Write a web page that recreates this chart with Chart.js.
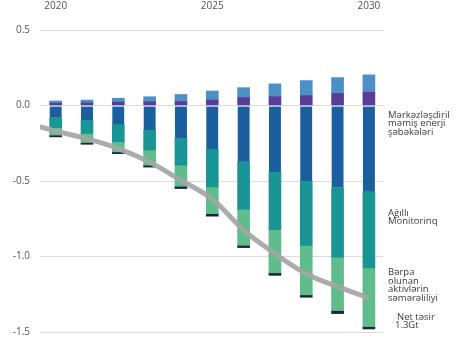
<!DOCTYPE html>
<html>
<head>
<meta charset="utf-8">
<script src="https://cdn.jsdelivr.net/npm/chart.js@4/dist/chart.umd.min.js"></script>
<style>
  html, body { margin: 0; padding: 0; background: #fff; }
  #wrap { width: 456px; height: 348px; position: relative; }
</style>
</head>
<body>
<div id="wrap"><canvas id="chart"></canvas></div>
<script>
// years on the top axis
const years = [2020, 2021, 2022, 2023, 2024, 2025, 2026, 2027, 2028, 2029, 2030];
const yearTicks = [2020, 2025, 2030];

// positive segments (Gt)
const purple    = [0.015, 0.018, 0.023, 0.025, 0.027, 0.036, 0.052, 0.058, 0.065, 0.080, 0.088];
const lightBlue = [0.015, 0.018, 0.025, 0.033, 0.046, 0.060, 0.066, 0.085, 0.100, 0.105, 0.115];

// negative segments (Gt)
const decentral = [-0.080, -0.096, -0.125, -0.163, -0.218, -0.291, -0.373, -0.440, -0.500, -0.543, -0.572];
const smartMon  = [-0.067, -0.089, -0.115, -0.132, -0.177, -0.248, -0.314, -0.382, -0.426, -0.461, -0.503];
const renewEff  = [-0.049, -0.060, -0.067, -0.100, -0.140, -0.177, -0.239, -0.286, -0.328, -0.354, -0.389];
const other     = [-0.012, -0.012, -0.012, -0.013, -0.015, -0.017, -0.015, -0.017, -0.016, -0.020, -0.016];

// net impact line (starts at the left edge of the plot)
const netYears = [2019.5, 2020, 2021, 2022, 2023, 2024, 2025, 2026, 2027, 2028, 2029, 2030];
const netValues = [-0.14, -0.17, -0.22, -0.285, -0.375, -0.495, -0.62, -0.825, -0.98, -1.114, -1.2, -1.274];

// right-hand annotations
const sideLabels = [
  { at: -0.063, x: 388, lines: ['Mərkəzləşdiril', 'məmiş enerji', 'şəbəkələri'] },
  { at: -0.712, x: 388, lines: ['Ağıllı', 'Monitorinq'] },
  { at: -1.104, x: 388, lines: ['Bərpa', 'olunan', 'aktivlərin', 'səmərəliliyi'] },
  { at: -1.402, x: 397, lines: ['Net təsir'] },
  { at: -1.457, x: 395, lines: ['1.3Gt'] }
];

const pts = (arr, xs) => arr.map((v, i) => ({ x: xs[i], y: v }));

function barSet(values, color, extra) {
  return Object.assign({
    type: 'bar',
    data: pts(values, years),
    backgroundColor: color,
    barThickness: 12,
    stack: 'bars',
    order: 1
  }, extra || {});
}

const sideLabelPlugin = {
  id: 'sideLabels',
  afterDraw(chart) {
    const ctx = chart.ctx;
    const yScale = chart.scales.y;
    ctx.save();
    ctx.font = '9.5px "Open Sans"';
    ctx.fillStyle = '#3a3a3a';
    ctx.textAlign = 'left';
    ctx.textBaseline = 'middle';
    sideLabels.forEach(l => {
      const y0 = yScale.getPixelForValue(l.at);
      l.lines.forEach((t, i) => ctx.fillText(t, l.x, y0 + i * 8.6));
    });
    ctx.restore();
  }
};

new Chart(document.getElementById('chart'), {
  data: {
    datasets: [
      {
        type: 'line',
        data: pts(netValues, netYears),
        borderColor: 'rgba(165,165,165,0.92)',
        borderWidth: 5,
        pointRadius: 0,
        tension: 0.4,
        fill: false,
        stack: 'net',
        order: 0
      },
      barSet(purple, '#5b3d97'),
      barSet(lightBlue, '#4d90c6'),
      barSet(decentral, '#1b5f9f', {
        borderColor: '#cfe0ef',
        borderWidth: { top: 1, left: 0, right: 0, bottom: 0 },
        borderSkipped: false
      }),
      barSet(smartMon, '#1a9595'),
      barSet(renewEff, '#5fbd8b'),
      barSet(other, '#1c2540')
    ]
  },
  options: {
    responsive: true,
    maintainAspectRatio: false,
    animation: false,
    layout: { padding: { left: 0, right: 73, top: 0, bottom: 16 } },
    plugins: {
      legend: { display: false },
      tooltip: { enabled: false }
    },
    scales: {
      x: {
        type: 'linear',
        position: 'top',
        min: 2019.5,
        max: 2030.45,
        offset: false,
        stacked: true,
        grid: { display: false, offset: false },
        border: { display: false },
        afterBuildTicks: axis => { axis.ticks = yearTicks.map(v => ({ value: v })); },
        afterFit: axis => { axis.height = 30; },
        ticks: {
          padding: 10,
          maxRotation: 0,
          autoSkip: false,
          color: '#555',
          font: { family: 'Open Sans', size: 10 },
          callback: v => String(v)
        }
      },
      y: {
        min: -1.5,
        max: 0.5,
        stacked: true,
        afterFit: axis => { axis.width = 40; },
        grid: { color: '#dcdcdc', lineWidth: 1, drawTicks: false },
        border: { display: false },
        ticks: {
          stepSize: 0.5,
          padding: 10,
          color: '#555',
          font: { family: 'Open Sans', size: 10 },
          callback: v => v.toFixed(1)
        }
      }
    }
  },
  plugins: [sideLabelPlugin]
});
</script>
</body>
</html>
